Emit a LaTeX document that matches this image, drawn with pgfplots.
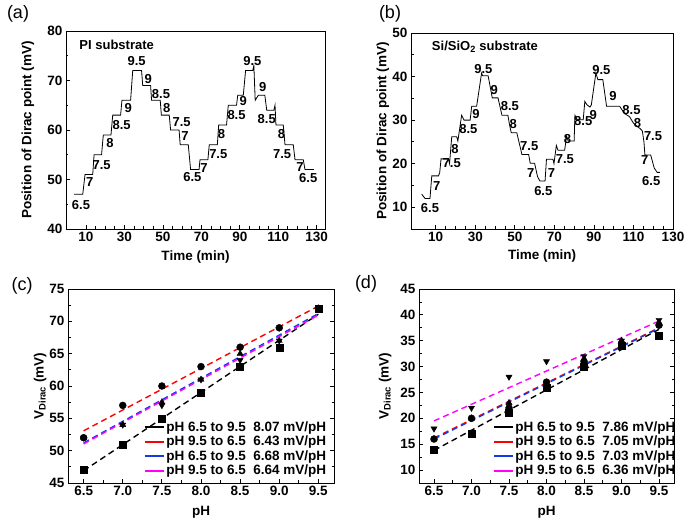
\documentclass[border=0pt]{standalone}
\usepackage{pgfplots}
\pgfplotsset{compat=1.18}
\usepackage{fontspec}
\setmainfont{Liberation Sans}
\definecolor{fitblue}{RGB}{15,60,235}
\definecolor{fitmag}{RGB}{255,0,255}
\tikzset{lbl/.style={font=\fontsize{13}{14}\selectfont\bfseries, inner sep=0pt}}
\pgfplotsset{
  panel/.style={
    scale only axis, anchor=south west,
    axis line style={line width=0.9pt},
    tick align=inside,
    tick style={line width=0.8pt, black},
    major tick length=4pt, minor tick length=2.5pt,
    ticklabel style={font=\fontsize{13.5}{15}\selectfont\bfseries},
    label style={font=\fontsize{13.5}{15}\selectfont\bfseries},
    /pgf/number format/assume math mode=true,
    clip=false,
  },
  steppanel/.style={panel, tick pos=left, minor x tick num=3, minor y tick num=1,
    xtick={10,30,...,130}},
  fitpanel/.style={panel, xtick pos=left, ytick pos=both, minor x tick num=1, minor y tick num=1,
    xmin=6.3, xmax=9.7, xtick={6.5,7,...,9.5},
    xticklabel style={/pgf/number format/.cd, fixed, fixed zerofill, precision=1},
    xlabel={pH}, ylabel={V\textsubscript{Dirac} (mV)},
    legend cell align=left,
    legend image code/.code={\draw[#1,solid,line width=1.8pt] (0pt,0pt) -- (19pt,0pt);},
    legend style={draw=none, fill=none, font=\fontsize{13.5}{15}\selectfont\bfseries,
      row sep=0.3pt, inner sep=0pt, nodes={inner sep=1.5pt}},
  },
  fitline/.style={dashed, dash pattern=on 6pt off 4pt, line width=1.4pt},
  mk/.style={only marks, black, mark size=3.5pt, forget plot},
}
\begin{document}
\begin{tikzpicture}
\path[use as bounding box] (0pt,0pt) rectangle (685pt,519pt);
\node[font=\fontsize{18}{20}\selectfont] at (18pt,505pt) {(a)};
\node[font=\fontsize{18}{20}\selectfont] at (390pt,505pt) {(b)};
\node[font=\fontsize{18}{20}\selectfont] at (22pt,233pt) {(c)};
\node[font=\fontsize{18}{20}\selectfont] at (366pt,235pt) {(d)};

% (a)
\begin{axis}[steppanel, at={(66pt,290pt)}, width=259pt, height=198pt,
  xmin=-0.4, xmax=134.3, ymin=40, ymax=80, ytick={40,50,...,80},
  xlabel={Time (min)}, ylabel={Position of Dirac point (mV)},
  xlabel style={at={(axis description cs:0.5,-0.14)}, anchor=center},
  ylabel style={at={(axis description cs:-0.147,0.5)}, anchor=center}]
\addplot[black, line width=0.8pt] coordinates {
(3.8,47) (8.3,47) (9.5,51) (13.5,51) (14.2,55) (18.1,55) (19,59) (23,59)
(23.9,63) (28,63) (28.7,66) (33.2,66) (34.3,72) (38.9,72) (39.5,69) (43.6,69)
(44.1,66) (48.6,66) (49.2,63) (53.3,63) (54,60) (58.4,60) (59,57) (63.2,57)
(64.4,52) (68.8,52) (69.3,54) (73.4,54) (74.1,57) (78.3,57) (79,61) (83.1,61)
(84,65) (88.3,65) (88.9,67) (91.8,67) (93,72) (96.7,72) (97.3,73) (98,66)
(99.6,67) (103,67) (104,64) (107.7,64) (108.3,65) (108.8,61) (112.6,61)
(113.5,57) (117.8,57) (118.7,54) (123,54) (123.9,52) (128.5,52)};
\node[lbl, anchor=west] at (6.5,77.3) {PI substrate};
\node[lbl] at (7.4,44.8) {6.5};
\node[lbl] at (12,49.4) {7};
\node[lbl] at (18.1,53) {7.5};
\node[lbl] at (22.5,57.3) {8};
\node[lbl] at (28.5,61) {8.5};
\node[lbl] at (32,64.4) {9};
\node[lbl] at (36.3,73.9) {9.5};
\node[lbl] at (42.4,70.3) {9};
\node[lbl] at (49,67.3) {8.5};
\node[lbl] at (52,64.4) {8};
\node[lbl] at (59.7,61.6) {7.5};
\node[lbl] at (61.5,58.8) {7};
\node[lbl] at (65.3,50.4) {6.5};
\node[lbl] at (71.4,52.4) {7};
\node[lbl] at (78.8,55.1) {7.5};
\node[lbl] at (80.5,59.1) {8};
\node[lbl] at (88.3,63) {8.5};
\node[lbl] at (91.8,65.9) {9};
\node[lbl] at (96.5,73.9) {9.5};
\node[lbl] at (101.9,68.6) {9};
\node[lbl] at (104,62.2) {8.5};
\node[lbl] at (111.7,59.1) {8};
\node[lbl] at (112,55.2) {7.5};
\node[lbl] at (121.3,52.6) {7};
\node[lbl] at (125.6,50.2) {6.5};
\end{axis}

% (b)
\begin{axis}[steppanel, at={(411pt,290pt)}, width=262pt, height=196pt,
  xmin=-2.5, xmax=130, ymin=5, ymax=50, ytick={10,20,...,50},
  xlabel={Time (min)}, ylabel={Position of Dirac point (mV)},
  xlabel style={at={(axis description cs:0.5,-0.14)}, anchor=center},
  ylabel style={at={(axis description cs:-0.107,0.5)}, anchor=center}]
\addplot[black, line width=0.8pt] coordinates {
(2.9,13) (4.6,12) (7.1,12) (8,17.2) (11.4,17.2) (12,17.9) (12.7,21.1) (16.4,21.1)
(17,20) (18.1,26.2) (20.6,26.2) (21.2,25.2) (23.1,31.1) (24.3,30) (27.4,30)
(28.2,33.2) (30.7,33.2) (33.2,40.8) (33.7,40.2) (36.5,40.2) (38.6,35.1) (41.5,35.1)
(43.5,31.1) (46.5,31.1) (47.3,29) (48.2,27.1) (51,27.1) (53.6,22.1) (57,22.1)
(57.8,20.1) (60,20.1) (61.5,17) (62.7,16)
(65.3,16) (66,21) (69.3,21) (69.8,20) (71,24.2) (71.8,23.1) (75.2,23.1) (76.2,26.3)
(77,25.2) (80,25.2) (80.4,31.1) (81.6,30.1) (84.6,30.1) (85.4,34.3) (86.5,33.5)
(88,33) (88.7,33.5) (91,40.8) (92,39.3) (94.5,39.3) (96.4,33.2) (103,33.2)
(104,32.5) (105.5,31.5) (108,30.8) (110,29.3) (112,28.5) (113.5,28) (114.5,27.5)
(115.3,25) (115.8,22) (118.7,22) (120.5,19) (122,18) (123.4,18)};
\node[lbl, anchor=west] at (8,46.9) {Si/SiO\textsubscript{2} substrate};
\node[lbl] at (7.1,9.9) {6.5};
\node[lbl] at (10.5,14.9) {7};
\node[lbl] at (18.1,20.1) {7.5};
\node[lbl] at (19.8,23.4) {8};
\node[lbl] at (26.5,27.9) {8.5};
\node[lbl] at (30.4,31.3) {9};
\node[lbl] at (34.1,41.8) {9.5};
\node[lbl] at (39.6,36.9) {9};
\node[lbl] at (47.5,33.2) {8.5};
\node[lbl] at (49.2,29.1) {8};
\node[lbl] at (57.3,24) {7.5};
\node[lbl] at (58,17.9) {7};
\node[lbl] at (64.4,13.7) {6.5};
\node[lbl] at (68.6,17.9) {7};
\node[lbl] at (75.3,21.1) {7.5};
\node[lbl] at (76.7,25.7) {8};
\node[lbl] at (84.6,29.8) {8.5};
\node[lbl] at (89.6,31.2) {9};
\node[lbl] at (93.8,41.6) {9.5};
\node[lbl] at (99.6,35.6) {9};
\node[lbl] at (109,32.4) {8.5};
\node[lbl] at (112,29.4) {8};
\node[lbl] at (119.9,26.3) {7.5};
\node[lbl] at (115.7,20.8) {7};
\node[lbl] at (119,16) {6.5};
\end{axis}

% (c)
\begin{axis}[fitpanel, at={(68pt,36pt)}, width=266pt, height=194pt,
  ymin=45, ymax=75, ytick={45,50,...,75},
  xlabel style={at={(axis description cs:0.5,-0.15)}, anchor=center},
  ylabel style={at={(axis description cs:-0.105,0.5)}, anchor=center},
  legend style={at={(axis description cs:0.285,0.025)}, anchor=south west}]
\addplot[mk, mark=square*] coordinates {(6.5,47) (7,51) (7.5,55) (8,59) (8.5,63) (9,66) (9.5,72)};
\addplot[mk, mark=*] coordinates {(6.5,52) (7,57) (7.5,60) (8,63) (8.5,66) (9,69) (9.5,72)};
\addplot[mk, mark=triangle*] coordinates {(6.5,52) (7,54) (7.5,57.5) (8,61) (8.5,65) (9,67) (9.5,72)};
\addplot[mk, mark=triangle*, mark options={rotate=180}] coordinates {(6.5,52) (7,54) (7.5,57) (8,61) (8.5,64) (9,67) (9.5,72)};
\addplot[fitline, black] coordinates {(6.5,46.9) (9.5,71.1)};
\addplot[fitline, red] coordinates {(6.5,53.07) (9.5,72.36)};
\addplot[fitline, fitblue] coordinates {(6.5,51.2) (9.5,71.2)};
\addplot[fitline, fitmag] coordinates {(6.5,51.04) (9.5,70.96)};
\legend{pH 6.5 to 9.5\ \ 8.07 mV/pH, pH 9.5 to 6.5\ \ 6.43 mV/pH, pH 6.5 to 9.5\ \ 6.68 mV/pH, pH 9.5 to 6.5\ \ 6.64 mV/pH}
\end{axis}

% (d)
\begin{axis}[fitpanel, at={(419pt,36pt)}, width=255pt, height=194pt,
  ymin=7.5, ymax=45, ytick={10,15,...,45},
  xlabel style={at={(axis description cs:0.5,-0.15)}, anchor=center},
  ylabel style={at={(axis description cs:-0.133,0.5)}, anchor=center},
  legend style={at={(axis description cs:0.29,0.025)}, anchor=south west}]
\addplot[mk, mark=square*] coordinates {(6.5,14) (7,17) (7.5,21) (8,26) (8.5,30) (9,34) (9.5,36)};
\addplot[mk, mark=*] coordinates {(6.5,16) (7,20) (7.5,22) (8,27) (8.5,31) (9,34.5) (9.5,38)};
\addplot[mk, mark=triangle*] coordinates {(6.5,16) (7,20) (7.5,23) (8,26.5) (8.5,31.5) (9,35) (9.5,38.5)};
\addplot[mk, mark=triangle*, mark options={rotate=180}] coordinates {(6.5,18) (7,22) (7.5,28) (8,31) (8.5,32) (9,35) (9.5,39)};
\addplot[fitline, black] coordinates {(6.5,13.8) (9.5,37.2)};
\addplot[fitline, red] coordinates {(6.5,16.2) (9.5,37.5)};
\addplot[fitline, fitblue] coordinates {(6.5,16.0) (9.5,37.4)};
\addplot[fitline, fitmag] coordinates {(6.5,19.5) (9.5,38.8)};
\legend{pH 6.5 to 9.5\ \ 7.86 mV/pH, pH 9.5 to 6.5\ \ 7.05 mV/pH, pH 6.5 to 9.5\ \ 7.03 mV/pH, pH 9.5 to 6.5\ \ 6.36 mV/pH}
\end{axis}
\end{tikzpicture}
\end{document}
